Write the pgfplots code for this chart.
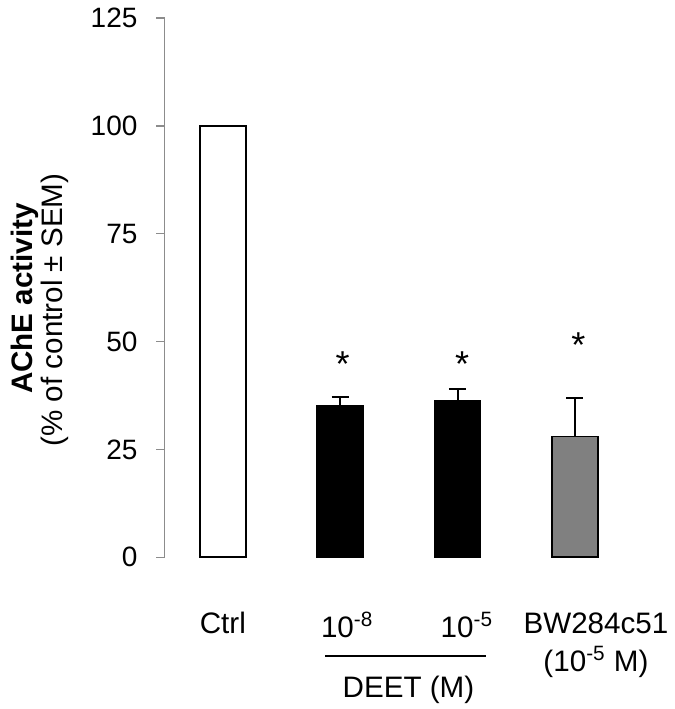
\documentclass[border=0pt]{standalone}
\usepackage{pgfplots}
\pgfplotsset{compat=1.18}
\usepackage{fontspec}
\setmainfont{Liberation Sans}
\definecolor{axgray}{RGB}{140,140,140}
\definecolor{bargray}{RGB}{128,128,128}
\begin{document}
\begin{tikzpicture}
\path (-82.25bp,-75.85bp) rectangle (255.25bp,278.65bp);
\begin{axis}[
 at={(0,0)}, anchor=south west,
 scale only axis, width=234.5bp, height=269.65bp,
 xmin=0.503, xmax=4.5, ymin=0, ymax=125,
 axis lines*=left,
 x axis line style={draw=none},
 y axis line style={axgray, line width=0.7bp},
 ytick={0,25,50,75,100,125},
 ytick style={axgray, line width=0.7bp},
 tick align=outside,
 major tick length=4bp,
 xtick={1,2.06,3.08,4.18},
 xticklabels={Ctrl, 10\textsuperscript{-8}, 10\textsuperscript{-5}, {BW284c51\\(10\textsuperscript{-5} M)}},
 xtick style={draw=none},
 xticklabel style={anchor=north, inner sep=0pt, yshift=-23.35bp, align=center, font=\fontsize{14.8bp}{19bp}\selectfont},
 yticklabel style={font=\fontsize{14bp}{17bp}\selectfont, xshift=-6bp},
 /pgf/number format/assume math mode=true,
 clip=false,
]
\addplot[ybar, bar shift=0pt, bar width=23bp, fill=white, draw=black, line width=0.9bp] coordinates {(1,100)};
\addplot[ybar, bar shift=0pt, bar width=23bp, fill=black, draw=black, line width=0.9bp,
  error bars/.cd, y dir=plus, y explicit,
  error bar style={line width=1bp, black},
  error mark options={rotate=90, mark size=4.25bp, line width=1bp, black}]
  coordinates {(2,35.1) +- (0,2.1) (3,36.2) +- (0,2.7)};
\addplot[ybar, bar shift=0pt, bar width=23bp, fill=bargray, draw=black, line width=0.9bp,
  error bars/.cd, y dir=plus, y explicit,
  error bar style={line width=1bp, black},
  error mark options={rotate=90, mark size=4.25bp, line width=1bp, black}]
  coordinates {(4,28.0) +- (0,9.0)};
\addplot[draw=none, mark=none, nodes near coords={*},
  nodes near coords style={anchor=base, inner sep=0pt, font=\fontsize{18bp}{20bp}\selectfont}]
  coordinates {(2.02,42.0) (3.04,42.0) (4.03,46.2)};
\draw[black, line width=1bp] (axis cs:1.874,-22.88) -- (axis cs:3.240,-22.88);
\node[anchor=base, inner sep=0pt, font=\fontsize{14.8bp}{17bp}\selectfont] at (axis cs:2.582,-32.38) {DEET (M)};
\end{axis}
\node[rotate=90, anchor=base, inner sep=0pt, font=\fontsize{14.8bp}{17bp}\selectfont\bfseries] at (-65.75bp,129.4bp) {AChE activity};
\node[rotate=90, anchor=base, inner sep=0pt, font=\fontsize{14.8bp}{17bp}\selectfont] at (-50.75bp,123.65bp) {(\% of control ± SEM)};
\end{tikzpicture}
\end{document}
